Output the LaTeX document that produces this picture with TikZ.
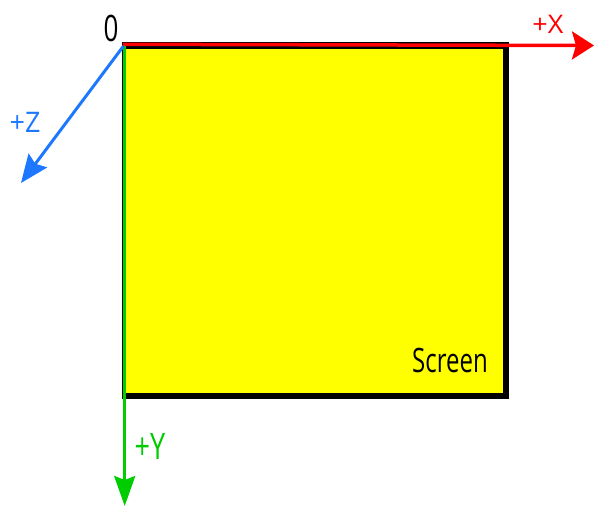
\documentclass[tikz,border=0pt]{standalone}
\usepackage{fontspec}
\setmainfont{Open Sans}
\usetikzlibrary{arrows.meta}
\definecolor{axred}{RGB}{255,0,0}
\definecolor{axgreen}{RGB}{0,204,0}
\definecolor{axblue}{RGB}{30,120,255}
\definecolor{scryellow}{RGB}{255,255,0}
\tikzset{
  axis/.style={line width=#1},
  lbl/.style={inner sep=0pt, anchor=base},
}
\begin{document}
\begin{tikzpicture}[x=1pt,y=-1pt]
\useasboundingbox (0,0) rectangle (594,506);
% screen
\fill[black] (121.7,42) rectangle (509,399.3);
\node[fill=scryellow, inner sep=0pt, minimum width=379.3pt, minimum height=344.2pt] (screen) at (313.65,220.6) {};
\coordinate (O) at (123,44.3);
\coordinate (Xend) at (594,45.5);
\coordinate (Ystart) at (124.7,44);
\coordinate (Yend) at (124.7,506);
\coordinate (Zstart) at (123.5,46);
\coordinate (Zend) at (21,183);
% axes
\draw[axis=2.8pt, axgreen, -{Stealth[length=30pt,width=21pt,inset=4pt]}] (Ystart) -- (Yend);
\draw[axis=3.5pt, axred, -{Stealth[length=22pt,width=28pt,inset=4pt]}] (O) -- (Xend);
\draw[axis=3pt, axblue, -{Stealth[length=28pt,width=23pt,inset=4pt]}] (Zstart) -- (Zend);
% labels
\node[lbl, font=\fontsize{26}{28}\selectfont, yscale=1.4] (zero) at (111,41) {0};
\node[lbl, font=\fontsize{27}{29}\selectfont, axred, yscale=0.95] (xl) at (548,33) {+X};
\node[lbl, font=\fontsize{27}{29}\selectfont, axblue, yscale=1.05] (zl) at (25,132) {+Z};
\node[lbl, font=\fontsize{27}{29}\selectfont, axgreen, yscale=1.35] (yl) at (150,459) {+Y};
\node[lbl, font=\fontsize{24}{26}\selectfont, yscale=1.4] (scrl) at (450,372) {Screen};
\end{tikzpicture}
\end{document}
